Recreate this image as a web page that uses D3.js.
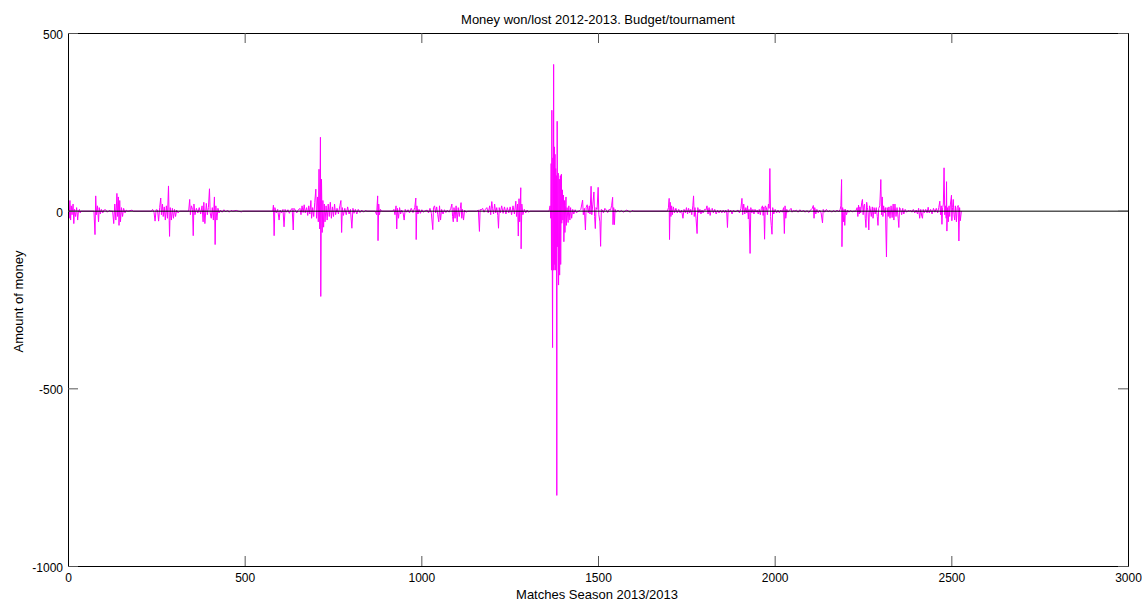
<!DOCTYPE html>
<html>
<head>
<meta charset="utf-8">
<script src="https://cdn.jsdelivr.net/npm/d3@7"></script>
<style>
body { margin: 0; background: white; }
</style>
</head>
<body>
<script>
// [match number, money won (+) / lost (-)]
let results = [
    [0, 25], [2, -20], [4, 30], [6, -25], [8, 15], [10, -10], [13, 20], [15, -35], [17, 5], [20, -15], [23, 10], [26, -25], [28, 0], [31, 5], [33, -5], [35, 0],
    [72, 0], [75, -66], [77, 43], [79, -10], [82, 15], [85, -30], [87, 10], [90, -8], [93, 5], [97, -5], [100, 3], [105, 4], [110, -3], [115, 2], [120, 0],
    [125, 0], [128, -35], [131, 20], [134, -25], [137, 50], [139, -15], [141, 40], [143, -40], [145, 30], [147, -30], [150, 10], [153, -15], [156, 8], [160, -5], [163, 3], [168, 0], [180, 3], [183, 0],
    [235, 0], [238, 5], [242, -3], [245, -28], [248, 4], [252, 3], [255, -28], [258, 10], [261, 37], [263, -10], [266, 20], [268, -15], [271, 12], [274, -25], [277, 15], [280, -20], [283, 71], [285, -26], [286, -71], [288, 10], [291, -25], [294, 8], [297, -20], [300, 5], [303, -15], [306, 3], [310, -5], [315, 0],
    [340, 0], [343, 33], [345, -10], [348, 15], [351, 5], [353, -69], [355, 20], [358, -10], [362, 8], [366, -5], [370, 10], [374, -8], [378, 15], [381, -30], [383, 25], [386, -35], [390, 22], [393, -10], [396, 10], [399, 63], [401, -5], [404, -20], [407, 10], [410, -25], [413, 40], [415, -94], [417, 15], [420, -25], [423, 8], [426, -5], [430, 3], [435, -3], [440, 4], [445, -2], [450, 3], [455, -3], [460, 2], [465, 0], [475, 2], [480, 0], [490, -2], [493, 0],
    [578, 0], [580, 17], [582, -69], [584, 10], [588, -5], [592, 5], [596, -25], [599, 3], [603, -5], [607, 5], [610, -44], [613, 5], [617, -3], [621, 4], [625, -6], [629, 3], [633, 8], [636, -53], [638, 8], [642, 3], [646, -5], [650, 3], [655, 8], [658, -10], [661, 15], [664, -4], [667, 18], [670, -5], [674, 10], [677, -12], [680, 15], [683, -8], [686, 30], [688, -20], [691, 10], [694, -15], [697, 25], [700, 62], [702, -20], [705, 40], [707, -30], [709, 118], [711, -50], [713, 208], [714, -240], [716, 90], [718, -60], [720, 30],
    [722, -45], [724, 20], [726, -30], [729, 15], [732, -25], [735, 20], [738, -15], [741, 25], [744, -20], [747, 12], [750, -15], [753, 20], [756, -10], [760, 8], [764, -8], [768, 15], [771, 30], [773, -60], [775, 10], [778, -12], [782, 8], [786, -10], [790, 12], [794, -8], [798, 5], [802, -48], [805, 8], [808, -6], [812, 5], [816, -8], [820, 5], [825, -4], [830, 3], [835, -3], [840, 2], [845, 0],
    [868, 0], [872, -10], [875, 43], [876, -83], [878, 20], [880, -10], [883, 5], [886, 0],
    [918, 0], [921, 5], [924, -10], [927, 15], [929, -50], [931, 8], [934, -20], [937, 10], [940, -8], [943, 3], [947, -5], [950, -25], [953, 5], [957, -3], [961, 4], [965, -5], [970, 8], [975, -4], [980, 10], [983, 37], [984, -80], [986, 15], [989, -8], [992, 5], [996, -6], [1000, 4], [1004, -3], [1008, 0],
    [1015, 3], [1019, -5], [1023, 8], [1027, -6], [1031, -52], [1033, 10], [1036, 15], [1039, -5], [1042, 12], [1045, -10], [1048, -30], [1050, 15], [1053, -25], [1056, 5], [1060, -8], [1064, 4], [1068, -4], [1072, 3], [1077, -3], [1082, 8], [1085, 20], [1087, -15], [1089, -30], [1091, 10], [1094, -20], [1097, 15], [1100, -30], [1103, 10], [1106, -15], [1109, 8], [1111, 24], [1113, -20], [1115, 5], [1118, -25], [1121, 3], [1125, -3], [1130, 0],
    [1155, 0], [1160, 3], [1163, -57], [1165, 5], [1168, 3], [1172, 8], [1176, -3], [1180, 5], [1184, 10], [1188, -5], [1192, 15], [1195, -10], [1198, 27], [1200, 8], [1203, -8], [1206, 20], [1209, -5], [1212, 10], [1215, -12], [1217, -48], [1219, 10], [1222, -5], [1226, 15], [1230, -6], [1234, 12], [1238, -8], [1242, 10], [1246, -5], [1250, 12], [1254, -10], [1258, 15], [1262, -8], [1266, 28], [1268, -15], [1271, 20], [1273, -70], [1275, 35], [1277, -30], [1280, 66], [1281, -106], [1283, 20], [1286, -10], [1290, 5], [1294, -5], [1298, 3], [1302, -3], [1306, 0],
    [1360, 0], [1363, 15], [1365, -20], [1366, 134], [1367, -166], [1368, 284], [1369, -100], [1370, -384], [1371, 150], [1372, -166], [1373, 413], [1374, -166], [1375, 181], [1376, -150], [1377, 160], [1378, -166], [1379, 120], [1380, -60], [1381, 100], [1382, -800], [1383, 253], [1384, -100], [1386, 107], [1387, -208], [1389, 90], [1390, -180], [1392, 100], [1393, -150], [1395, 104], [1396, -34], [1398, 60], [1399, -25], [1401, 45], [1402, -86], [1404, 30], [1405, -60], [1407, 15], [1408, 40], [1409, -40], [1411, 10], [1414, -32], [1416, 15], [1419, -25], [1421, 10], [1424, -20], [1427, 5], [1430, -8], [1434, 4], [1438, -5], [1441, 0],
    [1445, 0], [1450, 5], [1455, 31], [1457, -10], [1460, 8], [1463, -53], [1465, 10], [1468, 18], [1471, -5], [1474, 15], [1476, -8], [1479, 70], [1481, -10], [1484, 20], [1487, 54], [1489, -15], [1491, -49], [1493, 10], [1496, 5], [1499, 67], [1501, -10], [1504, -30], [1506, -99], [1508, 5], [1511, 3], [1514, -5], [1518, 8], [1522, 3], [1526, -4], [1530, 5], [1534, 3], [1537, 15], [1540, 39], [1541, -38], [1543, 10], [1545, -38], [1547, 5], [1550, -3], [1555, 3], [1560, -2], [1565, 2], [1570, -3], [1575, 0], [1580, 3], [1585, 0], [1590, -3], [1595, 2], [1600, 0],
    [1695, 0], [1698, 10], [1700, 36], [1701, -80], [1703, 25], [1705, -15], [1707, 15], [1709, -10], [1712, 12], [1715, -5], [1719, 8], [1723, -5], [1727, 5], [1731, -5], [1735, 3], [1739, -20], [1742, 5], [1746, -5], [1749, 10], [1752, -8], [1755, 8], [1758, -5], [1761, 5], [1764, -10], [1767, 15], [1769, 43], [1771, -15], [1773, 10], [1776, -20], [1779, -63], [1781, 10], [1784, -5], [1787, 5], [1790, -8], [1793, 3], [1796, -5], [1800, 5], [1804, 3], [1807, 15], [1810, -8], [1813, 10], [1816, -12], [1819, 5], [1822, 8], [1825, -5], [1829, 5], [1833, -8], [1837, 3], [1841, -5], [1845, 3], [1849, -5], [1853, 3], [1857, -5], [1860, 3], [1863, -5], [1865, -46], [1867, 5], [1870, -3], [1874, 3], [1878, -8], [1882, 3], [1886, -2],
    [1890, 0], [1895, 3], [1899, -5], [1903, 8], [1906, 36], [1908, -10], [1911, 20], [1914, -8], [1917, 10], [1920, -5], [1922, 15], [1924, -22], [1926, 5], [1929, -119], [1931, 10], [1934, -5], [1937, 5], [1940, -8], [1943, 5], [1946, -3], [1949, 3], [1952, -8], [1955, 5], [1958, -10], [1961, 8], [1964, 15], [1966, -12], [1968, 12], [1970, -79], [1972, 15], [1975, 10], [1978, -10], [1981, 20], [1983, 8], [1985, 120], [1987, -15], [1989, -40], [1991, -65], [1993, 10], [1996, -8], [2000, 5], [2004, -5], [2008, 3], [2012, -5], [2016, 3], [2020, -3], [2024, 10], [2026, -63], [2028, 15], [2030, -20], [2033, 5], [2036, -3], [2040, 2], [2045, 8], [2048, -3], [2052, 2], [2056, 0],
    [2060, 3], [2065, -3], [2070, 4], [2075, -2], [2080, 3], [2085, -3], [2090, 2], [2095, -4], [2100, 3], [2105, 8], [2108, 16], [2110, -20], [2112, 10], [2115, -8], [2118, 5], [2122, -5], [2126, 3], [2130, -5], [2134, -33], [2136, 5], [2140, -3], [2145, 5], [2150, -2], [2155, 2], [2160, -3], [2165, 2], [2170, -2], [2175, 3], [2180, -2], [2184, 5], [2186, 15], [2188, 89], [2189, -100], [2191, 10], [2193, -30], [2195, 5], [2197, -40], [2199, 5], [2202, -10], [2205, 3], [2209, -3], [2213, 2], [2218, -2], [2222, 0],
    [2228, 0], [2232, 10], [2234, -15], [2236, 17], [2238, -8], [2240, 12], [2242, -5], [2245, 25], [2247, 33], [2249, -10], [2251, 15], [2253, 20], [2255, -20], [2257, -46], [2259, 25], [2261, 10], [2263, -5], [2265, -53], [2267, 15], [2269, 8], [2272, -15], [2275, 12], [2277, -20], [2280, 10], [2283, -8], [2286, 10], [2289, -15], [2291, -40], [2293, 8], [2296, 15], [2298, 60], [2299, 89], [2301, -10], [2303, 40], [2305, -15], [2307, 15], [2309, -5], [2312, 10], [2315, -129], [2317, 10], [2320, -15], [2322, 12], [2325, -20], [2328, 15], [2331, -18], [2334, 20], [2336, -25], [2339, 20], [2342, -15], [2345, 10], [2348, -20], [2350, -46], [2352, 10], [2355, 5], [2358, -10], [2361, 8], [2364, -8], [2368, 5], [2372, -3], [2376, 2], [2380, 0],
    [2383, 3], [2387, -3], [2391, 5], [2395, -5], [2399, 3], [2403, -8], [2406, 8], [2409, -20], [2412, 5], [2415, -15], [2417, -20], [2419, 5], [2422, -5], [2426, 5], [2430, -5], [2433, 11], [2436, -5], [2440, 5], [2444, -8], [2448, 8], [2452, -3], [2456, 8], [2460, -5], [2463, 10], [2466, 28], [2468, -10], [2470, 15], [2472, -37], [2474, 10], [2476, 20], [2478, 122], [2480, -10], [2482, 15], [2484, -20], [2485, 83], [2486, -56], [2488, 10], [2490, -30], [2492, 15], [2494, -15], [2496, 20], [2499, 45], [2500, -27], [2502, 10], [2504, 33], [2506, -10], [2508, -25], [2510, 15], [2513, -30], [2515, 10], [2518, 16], [2520, -84], [2522, 10], [2524, -27], [2527, 0]
]

let xTicks = [0, 500, 1000, 1500, 2000, 2500, 3000]
let yTicks = [500, 0, -500, -1000]
let xDomain = [0, 3000]
let yDomain = [-1000, 500]

let titleText = 'Money won/lost 2012-2013. Budget/tournament'
let xLabelText = 'Matches Season 2013/2013'
let yLabelText = 'Amount of money'

let fontFamily = '"Liberation Sans", Arial, sans-serif'
let lineColor = '#ff00ff'

let svgContainer = d3.select("body").append("svg")
                                    .attr("width", 1142)
                                    .attr("height", 602);

let background = svgContainer.append('rect')
                            .attr('width', '100%')
                            .attr('height', '100%')
                            .attr('fill', 'white');

// d3 axes add 0.5 to positions, so ranges are whole pixels
let x = d3.scaleLinear().domain(xDomain).range([68, 1128])
let y = d3.scaleLinear().domain(yDomain).range([566, 33])

let moneyLine = d3.line()
                  .x(d => x(d[0]) + 0.5)
                  .y(d => y(d[1]) + 0.5)

svgContainer.append('path')
            .datum(results)
            .attr('d', moneyLine)
            .attr('fill', 'none')
            .attr('stroke', lineColor)
            .attr('stroke-width', 1);

// zero line drawn over the data
svgContainer.append('line')
            .attr('x1', x(xDomain[0]) + 0.5)
            .attr('x2', x(xDomain[1]) + 0.5)
            .attr('y1', y(0) + 0.5)
            .attr('y2', y(0) + 0.5)
            .attr('stroke', 'black')
            .attr('stroke-width', 1);

function drawAxis(axis, tx, ty, labels) {
    let g = svgContainer.append('g')
                        .attr('transform', `translate(${tx},${ty})`)
                        .call(axis)
    g.attr('font-family', fontFamily).attr('font-size', 12)
    g.select('.domain').attr('stroke', 'black')
    g.selectAll('.tick line').attr('stroke', '#555')
    g.selectAll('.tick text').attr('fill', 'black')
    if (!labels) g.selectAll('.tick text').remove()
    return g
}

drawAxis(d3.axisBottom(x).tickValues(xTicks).tickSizeInner(-10).tickSizeOuter(0).tickPadding(7).tickFormat(d => String(d)), 0, 566, true)
drawAxis(d3.axisTop(x).tickValues(xTicks).tickSizeInner(-10).tickSizeOuter(0), 0, 33, false)
let leftAxis = drawAxis(d3.axisLeft(y).tickValues(yTicks).tickSizeInner(-10).tickSizeOuter(0).tickPadding(5).tickFormat(d => String(d)), 68, 0, true)
leftAxis.selectAll('.tick text').attr('dy', '0.45em')
drawAxis(d3.axisRight(y).tickValues(yTicks).tickSizeInner(-10).tickSizeOuter(0), 1128, 0, false)

svgContainer.append('text')
            .attr('x', 598)
            .attr('y', 23.5)
            .attr('text-anchor', 'middle')
            .attr('font-family', fontFamily)
            .attr('font-size', '13px')
            .attr('fill', 'black')
            .text(titleText);

svgContainer.append('text')
            .attr('x', 597)
            .attr('y', 598.5)
            .attr('text-anchor', 'middle')
            .attr('font-family', fontFamily)
            .attr('font-size', '13px')
            .attr('fill', 'black')
            .text(xLabelText);

svgContainer.append('text')
            .attr('transform', 'translate(23,301.5) rotate(-90)')
            .attr('text-anchor', 'middle')
            .attr('font-family', fontFamily)
            .attr('font-size', '13px')
            .attr('fill', 'black')
            .text(yLabelText);
</script>
</body>
</html>
